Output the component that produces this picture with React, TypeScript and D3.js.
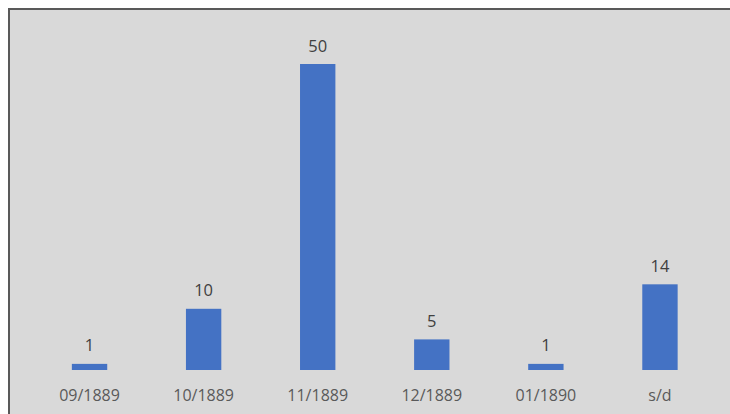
import React from "react";
import * as d3 from "d3";

const categories = ["09/1889", "10/1889", "11/1889", "12/1889", "01/1890", "s/d"];
const values = [1, 10, 50, 5, 1, 14];

export default function App() {
  const W = 722;
  const H = 406;
  const x = d3.scaleBand<string>().domain(categories).range([24.5, 709]).paddingInner(0.69).paddingOuter(0.345);
  const y = d3.scaleLinear().domain([0, 50]).range([362, 56]);
  const font = "'Open Sans', 'Segoe UI', sans-serif";
  return (
    <svg width={W} height={H} style={{ display: "block", position: "fixed", left: 8, top: 8 }}>
      <rect x={1} y={1} width={W + 10} height={H + 10} fill="#d9d9d9" stroke="#595959" strokeWidth={2} />
      {categories.map((c, i) => {
        const bx = x(c)!;
        const bw = x.bandwidth();
        const top = y(values[i]);
        return (
          <g key={c}>
            <rect x={bx} y={top} width={bw} height={y(0) - top} fill="#4472C4" />
            <text x={bx + bw / 2} y={top - 12.5} textAnchor="middle" fontFamily={font} fontSize={16.5} fill="#404040">
              {values[i]}
            </text>
            <text x={bx + bw / 2} y={392.5} textAnchor="middle" fontFamily={font} fontSize={16} fill="#595959">
              {c}
            </text>
          </g>
        );
      })}
    </svg>
  );
}
